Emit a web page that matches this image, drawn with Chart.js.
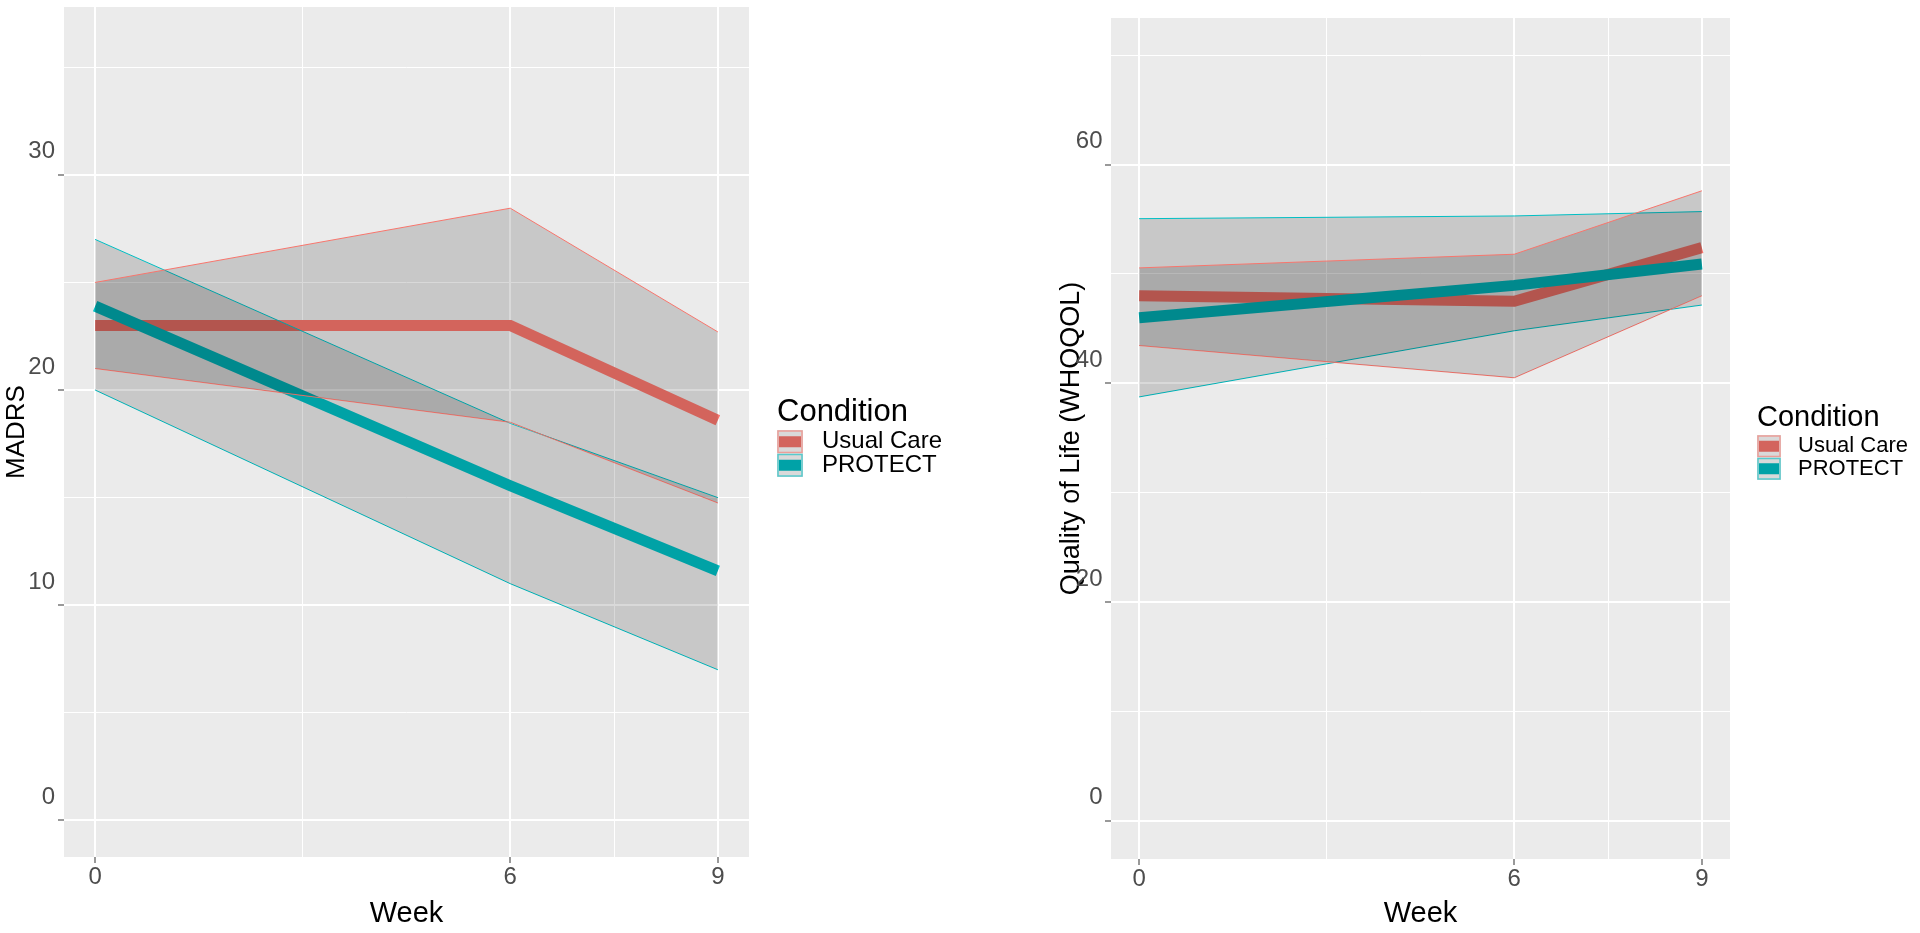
<!DOCTYPE html>
<html>
<head>
<meta charset="utf-8">
<script src="https://cdn.jsdelivr.net/npm/chart.js@4.4.0/dist/chart.umd.min.js"></script>
<style>
  body { margin: 0; background: #fff; }
  .box { position: absolute; top: 0; width: 960px; height: 933px; }
</style>
</head>
<body>
<div class="box" style="left:0"><canvas id="myChart"></canvas></div>
<div class="box" style="left:960px"><canvas id="myChart2"></canvas></div>
<script>
const weeks = [0, 6, 9];
const groups = ['Usual Care', 'PROTECT'];

// MADRS (left panel)
const madrsCare = [23.0, 23.0, 18.6];
const madrsCareHi = [25.0, 28.45, 22.7];
const madrsCareLo = [21.0, 18.5, 14.75];
const madrsProtect = [23.9, 15.55, 11.6];
const madrsProtectHi = [27.0, 18.45, 15.0];
const madrsProtectLo = [20.0, 11.0, 7.0];

// WHOQOL (right panel)
const qolCare = [48.0, 47.5, 52.4];
const qolCareHi = [50.55, 51.8, 57.6];
const qolCareLo = [43.45, 40.5, 48.0];
const qolProtect = [46.0, 48.95, 50.9];
const qolProtectHi = [55.05, 55.3, 55.7];
const qolProtectLo = [38.75, 44.8, 47.15];

// tick labels
const xTicks = [0, 6, 9];
const xMinor = [3, 7.5];
const madrsTicks = [0, 10, 20, 30];
const madrsMinor = [5, 15, 25, 35];
const qolTicks = [0, 20, 40, 60];
const qolMinor = [10, 30, 50, 70];

const FONT = "'Liberation Sans', Arial, sans-serif";
const red = '#F8766D';
const teal = '#00BFC4';
const ribbonFill = 'rgba(0,0,0,0.15)';

function pts(ys) {
  return weeks.map((w, i) => ({ x: w, y: ys[i] }));
}

function makeDatasets(care, careHi, careLo, prot, protHi, protLo) {
  const thin = { borderWidth: 1, pointRadius: 0, tension: 0 };
  return [
    { ...thin, label: 'Usual Care upper', data: pts(careHi), borderColor: red, backgroundColor: ribbonFill, fill: '+1', order: 0 },
    { ...thin, label: 'Usual Care lower', data: pts(careLo), borderColor: red, fill: false, order: 0 },
    { ...thin, label: 'PROTECT upper', data: pts(protHi), borderColor: teal, backgroundColor: ribbonFill, fill: '+1', order: 0 },
    { ...thin, label: 'PROTECT lower', data: pts(protLo), borderColor: teal, fill: false, order: 0 },
    { label: groups[0], data: pts(care), borderColor: red, borderWidth: 11, pointRadius: 0, fill: false, order: 2 },
    { label: groups[1], data: pts(prot), borderColor: teal, borderWidth: 11, pointRadius: 0, fill: false, order: 1 }
  ];
}

const panelBg = {
  id: 'panelBg',
  beforeDraw: (chart) => {
    const { ctx, chartArea: a } = chart;
    ctx.save();
    ctx.fillStyle = '#EBEBEB';
    ctx.fillRect(a.left, a.top, a.right - a.left, a.bottom - a.top);
    ctx.restore();
  }
};

// legend drawn by hand, ggplot style
const condLegend = {
  id: 'condLegend',
  afterDraw: (chart, args, o) => {
    const ctx = chart.ctx;
    ctx.save();
    ctx.fillStyle = '#000';
    ctx.textBaseline = 'middle';
    ctx.font = o.titleSize + 'px ' + FONT;
    ctx.fillText('Condition', o.x, o.titleY);
    const cols = [red, teal];
    const dark = ['#D3645D', '#00A2A7'];
    groups.forEach((g, i) => {
      const ky = o.keyY + i * o.keyH;
      ctx.fillStyle = '#D9D9D9';
      ctx.fillRect(o.x, ky, o.keyW, o.keyH);
      ctx.strokeStyle = cols[i];
      ctx.globalAlpha = 0.6;
      ctx.lineWidth = 1.5;
      ctx.strokeRect(o.x + 1, ky + 1, o.keyW - 2, o.keyH - 2);
      ctx.globalAlpha = 1;
      ctx.fillStyle = dark[i];
      ctx.fillRect(o.x + 2, ky + o.keyH / 2 - 5.5, o.keyW - 4, 11);
      ctx.fillStyle = '#000';
      ctx.font = o.itemSize + 'px ' + FONT;
      ctx.fillText(g, o.textX, ky + o.keyH / 2);
    });
    ctx.restore();
  }
};

function xScale(h) {
  const all = xTicks.concat(xMinor).sort((a, b) => a - b);
  return {
    type: 'linear', min: -0.45, max: 9.45,
    afterBuildTicks: (s) => { s.ticks = all.map(v => ({ value: v })); },
    afterFit: (s) => { s.height = h; s.paddingLeft = 0; s.paddingRight = 0; },
    ticks: {
      autoSkip: false, maxRotation: 0, padding: 0, color: '#4D4D4D',
      font: { family: FONT, size: 24 },
      callback: (v) => xTicks.includes(v) ? String(v) : ''
    },
    grid: {
      color: '#FFFFFF',
      lineWidth: (c) => xTicks.includes(c.tick.value) ? 2 : 1,
      tickColor: (c) => xTicks.includes(c.tick.value) ? '#555555' : 'rgba(0,0,0,0)',
      tickLength: 6, tickWidth: 1.2
    },
    border: { display: false },
    title: { display: true, text: 'Week', color: '#000', font: { family: FONT, size: 29 }, padding: { top: 0, bottom: 2 } }
  };
}

function yScale(min, max, major, minor, w, labelPad, title, titleSize, titlePad) {
  const all = major.concat(minor).sort((a, b) => a - b);
  return {
    type: 'linear', min: min, max: max,
    afterBuildTicks: (s) => { s.ticks = all.map(v => ({ value: v })); },
    afterFit: (s) => { s.width = w; s.paddingTop = 0; s.paddingBottom = 0; },
    ticks: {
      autoSkip: false, padding: labelPad, labelOffset: -23, color: '#4D4D4D',
      font: { family: FONT, size: 24 },
      callback: (v) => major.includes(v) ? String(v) : ''
    },
    grid: {
      color: '#FFFFFF',
      lineWidth: (c) => major.includes(c.tick.value) ? 2 : 1,
      tickColor: (c) => major.includes(c.tick.value) ? '#555555' : 'rgba(0,0,0,0)',
      tickLength: 6, tickWidth: 1.2
    },
    border: { display: false },
    title: { display: true, text: title, color: '#000', font: { family: FONT, size: titleSize }, padding: { top: titlePad, bottom: 0 } }
  };
}

// Config Block
const config = {
  type: 'line',
  data: { datasets: makeDatasets(madrsCare, madrsCareHi, madrsCareLo, madrsProtect, madrsProtectHi, madrsProtectLo) },
  options: {
    animation: false,
    responsive: true,
    maintainAspectRatio: false,
    layout: { padding: { top: 7, right: 211, left: 0, bottom: 0 } },
    scales: {
      x: xScale(76),
      y: yScale(-1.7, 37.8, madrsTicks, madrsMinor, 64, 3, 'MADRS', 26, 1.4)
    },
    plugins: {
      legend: { display: false },
      tooltip: { enabled: false },
      filler: { drawTime: 'beforeDatasetDraw' },
      condLegend: { x: 777, titleY: 412, titleSize: 31, itemSize: 24, keyY: 430, keyW: 26, keyH: 23.5, textX: 822 }
    }
  },
  plugins: [panelBg, condLegend]
};

// Second Chart Config
const config2 = {
  type: 'line',
  data: { datasets: makeDatasets(qolCare, qolCareHi, qolCareLo, qolProtect, qolProtectHi, qolProtectLo) },
  options: {
    animation: false,
    responsive: true,
    maintainAspectRatio: false,
    layout: { padding: { top: 18, right: 190, left: 0, bottom: 0 } },
    scales: {
      x: xScale(74),
      y: yScale(-3.5, 73.4, qolTicks, qolMinor, 151, 2.5, 'Quality of Life (WHOQOL)', 27, 95)
    },
    plugins: {
      legend: { display: false },
      tooltip: { enabled: false },
      filler: { drawTime: 'beforeDatasetDraw' },
      condLegend: { x: 797, titleY: 418, titleSize: 29, itemSize: 22, keyY: 435, keyW: 24, keyH: 22.5, textX: 838 }
    }
  },
  plugins: [panelBg, condLegend]
};

// Render block
function render() {
  new Chart(document.getElementById('myChart'), config);
}
function render2() {
  new Chart(document.getElementById('myChart2'), config2);
}
render();
render2();
</script>
</body>
</html>
